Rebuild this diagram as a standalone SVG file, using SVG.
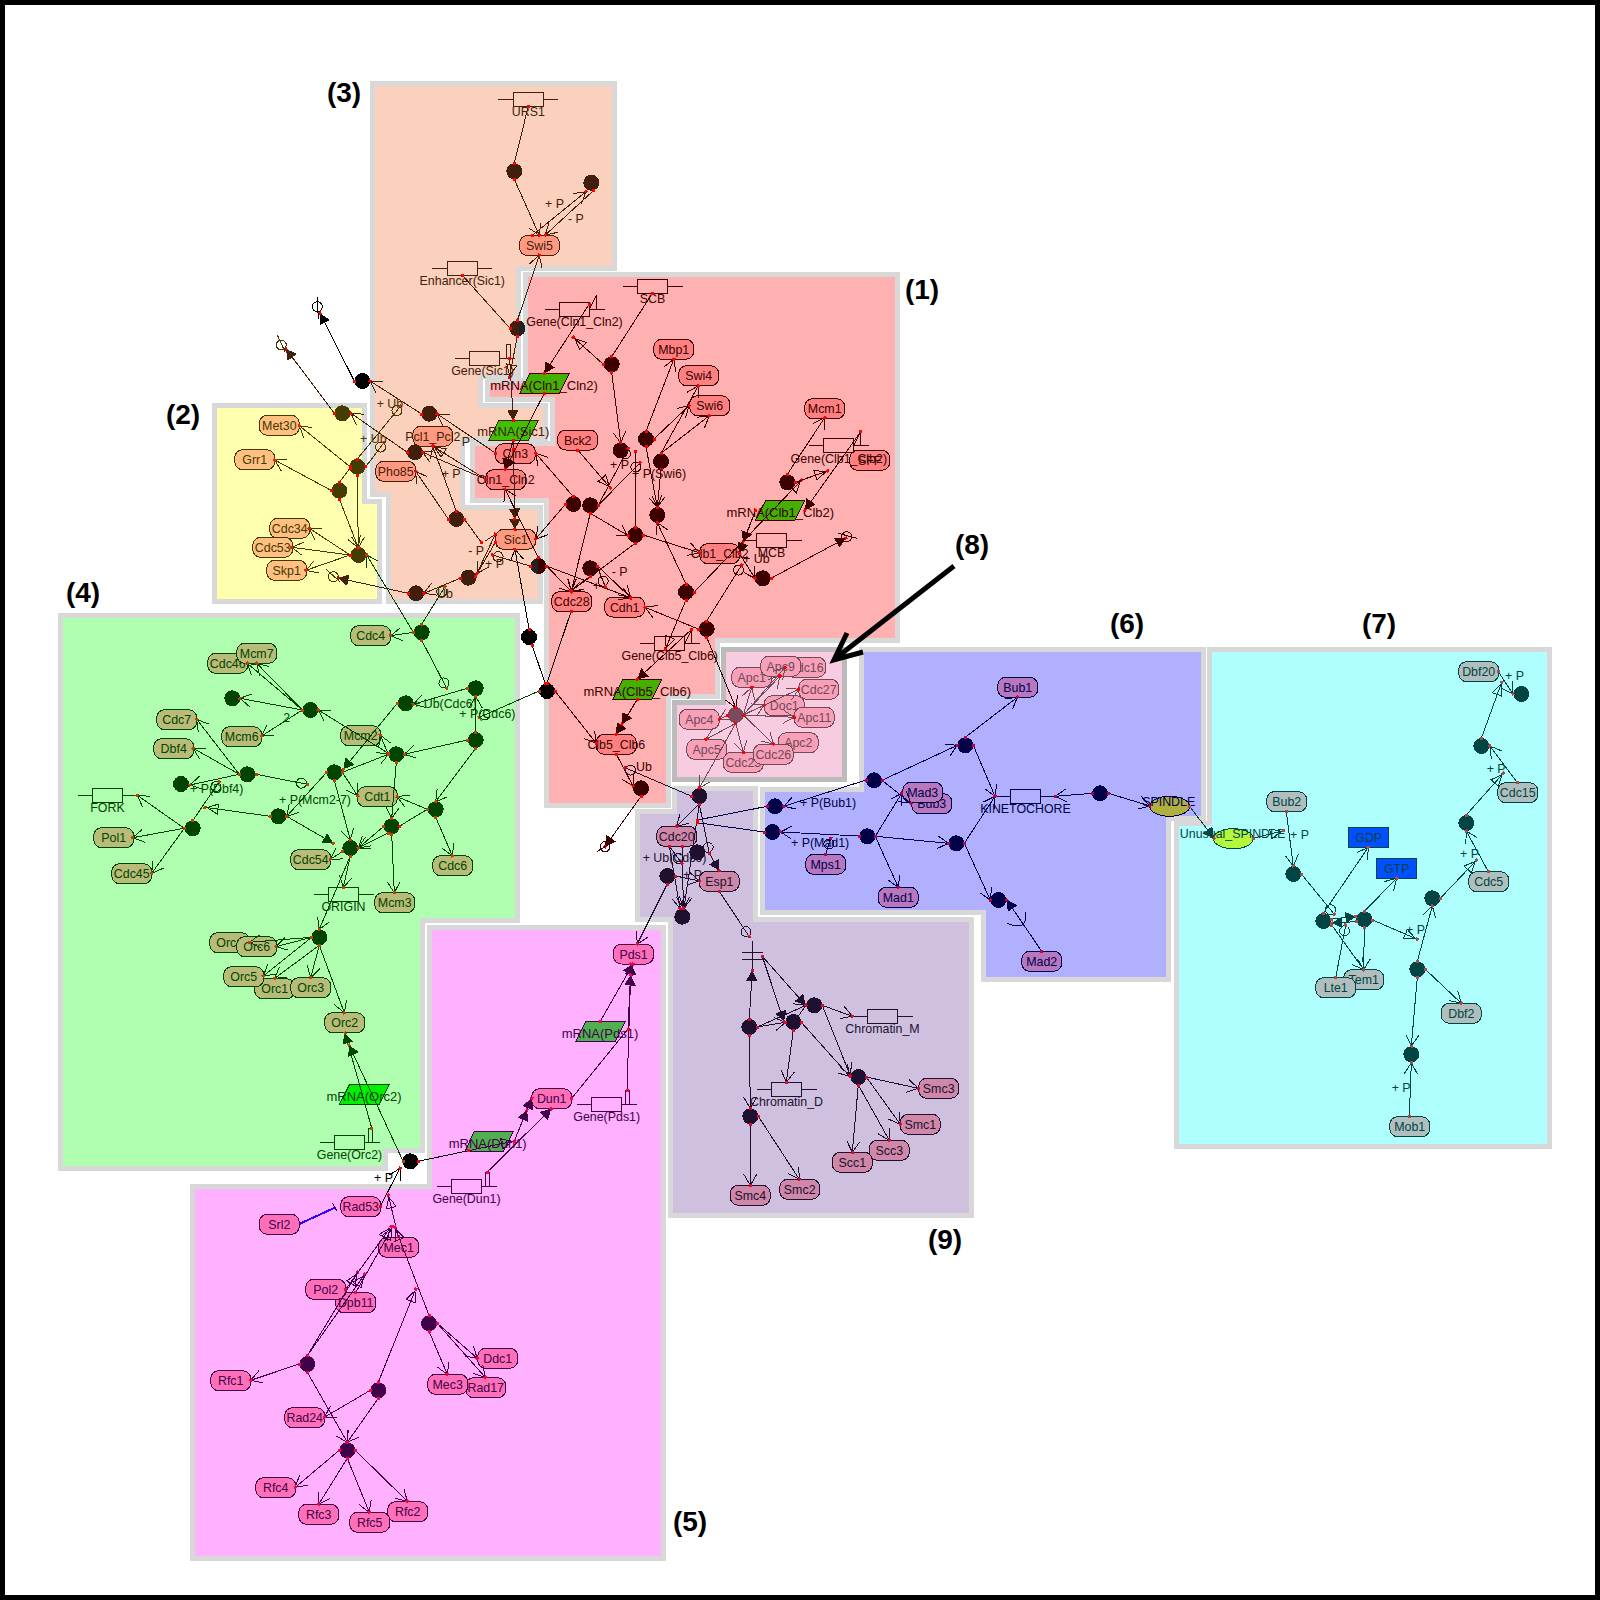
<svg xmlns="http://www.w3.org/2000/svg" width="1600" height="1600" viewBox="0 0 1600 1600" shape-rendering="crispEdges">
<style>
text{font:12.4px "Liberation Sans",Arial,sans-serif;text-anchor:middle;stroke:none}
.m text{font-size:13px}
.reg{stroke:#d8d8d8;stroke-width:5}
.h text{font:bold 28px "Liberation Sans",Arial,sans-serif;fill:#000}
.l text{text-anchor:start}
.r1{fill:#ff8080;stroke:#3c0000}.r1 text,.l1{fill:#3c0000}
.r2{fill:#ffc080;stroke:#443800}.r2 text,.l2{fill:#443800}
.r3{fill:#ff9a80;stroke:#42200c}.r3 text,.l3{fill:#42200c}
.r4{fill:#b8bc78;stroke:#004400}.r4 text,.l4{fill:#004400}
.r5{fill:#ff70b8;stroke:#40004c}.r5 text,.l5{fill:#40004c}
.r6{fill:#b878c0;stroke:#000048}.r6 text,.l6{fill:#000048}
.r7{fill:#b0bebe;stroke:#004444}.r7 text,.l7{fill:#004444}
.r8{fill:#f8a0b8;stroke:#704858}.r8 text,.l8{fill:#704858}
.r9{fill:#d088a8;stroke:#201030}.r9 text,.l9{fill:#201030}
.g{fill:none}
.k0{fill:#000}.k1{fill:#3c0000}.k2{fill:#443c00}.k3{fill:#421f0c}.k4{fill:#004400}.k5{fill:#40004c}.k6{fill:#000048}.k7{fill:#004444}.k8{fill:#7a4a5e}.k9{fill:#201030}
</style>
<defs>
<rect id="b" x="-20" y="-10" width="40" height="20" rx="8"/>
<g id="gn"><path d="M-30 0H-15M15 0H30"/><rect x="-15" y="-7" width="30" height="14"/></g>
<rect id="sq" x="-1.5" y="-1.5" width="3" height="3" stroke="none"/>
<g id="aO"><path d="M-11-6.5L0 0-11 6.5" fill="none" stroke="currentColor"/><use href="#sq"/></g>
<g id="aF"><path d="M-10-5L-1 0-10 5Z" fill="currentColor" stroke="currentColor"/><use href="#sq"/></g>
<g id="aH"><path d="M-13-5L-2 0-13 5Z" fill="none" stroke="currentColor"/><use href="#sq"/></g>
<g id="aC"><circle cx="-6" r="5" fill="none" stroke="currentColor"/><use href="#sq"/></g>
<marker id="s0" markerUnits="userSpaceOnUse" markerWidth="6" markerHeight="6" viewBox="-3 -3 6 6" fill="#f00"><use href="#sq"/></marker>
<marker id="s1" markerUnits="userSpaceOnUse" markerWidth="6" markerHeight="6" viewBox="-3 -3 6 6" fill="#f00"><use href="#sq"/></marker>
<marker id="s4" markerUnits="userSpaceOnUse" markerWidth="6" markerHeight="6" viewBox="-3 -3 6 6" fill="#c04000"><use href="#sq"/></marker>
<marker id="s5" markerUnits="userSpaceOnUse" markerWidth="6" markerHeight="6" viewBox="-3 -3 6 6" fill="#ff0040"><use href="#sq"/></marker>
<marker id="s6" markerUnits="userSpaceOnUse" markerWidth="6" markerHeight="6" viewBox="-3 -3 6 6" fill="#c00040"><use href="#sq"/></marker>
<marker id="s7" markerUnits="userSpaceOnUse" markerWidth="6" markerHeight="6" viewBox="-3 -3 6 6" fill="#b04848"><use href="#sq"/></marker>
<marker id="s9" markerUnits="userSpaceOnUse" markerWidth="6" markerHeight="6" viewBox="-3 -3 6 6" fill="#d01030"><use href="#sq"/></marker>
<marker id="o0" markerUnits="userSpaceOnUse" orient="auto" markerWidth="34" markerHeight="34" viewBox="-17 -17 34 34" color="#000" fill="#f00"><use href="#aO"/></marker>
<marker id="f0" markerUnits="userSpaceOnUse" orient="auto" markerWidth="34" markerHeight="34" viewBox="-17 -17 34 34" color="#000" fill="#f00"><use href="#aF"/></marker>
<marker id="o1" markerUnits="userSpaceOnUse" orient="auto" markerWidth="34" markerHeight="34" viewBox="-17 -17 34 34" color="#3c0000" fill="#f00"><use href="#aO"/></marker>
<marker id="f1" markerUnits="userSpaceOnUse" orient="auto" markerWidth="34" markerHeight="34" viewBox="-17 -17 34 34" color="#3c0000" fill="#f00"><use href="#aF"/></marker>
<marker id="h1" markerUnits="userSpaceOnUse" orient="auto" markerWidth="34" markerHeight="34" viewBox="-17 -17 34 34" color="#3c0000" fill="#f00"><use href="#aH"/></marker>
<marker id="c1" markerUnits="userSpaceOnUse" orient="auto" markerWidth="34" markerHeight="34" viewBox="-17 -17 34 34" color="#3c0000" fill="#f00"><use href="#aC"/></marker>
<marker id="e1" markerUnits="userSpaceOnUse" markerWidth="6" markerHeight="6" viewBox="-3 -3 6 6" fill="#f00"><use href="#sq"/></marker>
<marker id="o2" markerUnits="userSpaceOnUse" orient="auto" markerWidth="34" markerHeight="34" viewBox="-17 -17 34 34" color="#443800" fill="#f02000"><use href="#aO"/></marker>
<marker id="c2" markerUnits="userSpaceOnUse" orient="auto" markerWidth="34" markerHeight="34" viewBox="-17 -17 34 34" color="#443800" fill="#f02000"><use href="#aC"/></marker>
<marker id="o3" markerUnits="userSpaceOnUse" orient="auto" markerWidth="34" markerHeight="34" viewBox="-17 -17 34 34" color="#42200c" fill="#f00"><use href="#aO"/></marker>
<marker id="f3" markerUnits="userSpaceOnUse" orient="auto" markerWidth="34" markerHeight="34" viewBox="-17 -17 34 34" color="#42200c" fill="#f00"><use href="#aF"/></marker>
<marker id="h3" markerUnits="userSpaceOnUse" orient="auto" markerWidth="34" markerHeight="34" viewBox="-17 -17 34 34" color="#42200c" fill="#f00"><use href="#aH"/></marker>
<marker id="c3" markerUnits="userSpaceOnUse" orient="auto" markerWidth="34" markerHeight="34" viewBox="-17 -17 34 34" color="#42200c" fill="#f00"><use href="#aC"/></marker>
<marker id="o4" markerUnits="userSpaceOnUse" orient="auto" markerWidth="34" markerHeight="34" viewBox="-17 -17 34 34" color="#004400" fill="#c04000"><use href="#aO"/></marker>
<marker id="f4" markerUnits="userSpaceOnUse" orient="auto" markerWidth="34" markerHeight="34" viewBox="-17 -17 34 34" color="#004400" fill="#c04000"><use href="#aF"/></marker>
<marker id="h4" markerUnits="userSpaceOnUse" orient="auto" markerWidth="34" markerHeight="34" viewBox="-17 -17 34 34" color="#004400" fill="#c04000"><use href="#aH"/></marker>
<marker id="c4" markerUnits="userSpaceOnUse" orient="auto" markerWidth="34" markerHeight="34" viewBox="-17 -17 34 34" color="#004400" fill="#c04000"><use href="#aC"/></marker>
<marker id="o5" markerUnits="userSpaceOnUse" orient="auto" markerWidth="34" markerHeight="34" viewBox="-17 -17 34 34" color="#40004c" fill="#ff0040"><use href="#aO"/></marker>
<marker id="f5" markerUnits="userSpaceOnUse" orient="auto" markerWidth="34" markerHeight="34" viewBox="-17 -17 34 34" color="#40004c" fill="#ff0040"><use href="#aF"/></marker>
<marker id="h5" markerUnits="userSpaceOnUse" orient="auto" markerWidth="34" markerHeight="34" viewBox="-17 -17 34 34" color="#40004c" fill="#ff0040"><use href="#aH"/></marker>
<marker id="o6" markerUnits="userSpaceOnUse" orient="auto" markerWidth="34" markerHeight="34" viewBox="-17 -17 34 34" color="#000048" fill="#c00040"><use href="#aO"/></marker>
<marker id="f6" markerUnits="userSpaceOnUse" orient="auto" markerWidth="34" markerHeight="34" viewBox="-17 -17 34 34" color="#000048" fill="#c00040"><use href="#aF"/></marker>
<marker id="c6" markerUnits="userSpaceOnUse" orient="auto" markerWidth="34" markerHeight="34" viewBox="-17 -17 34 34" color="#000048" fill="#c00040"><use href="#aC"/></marker>
<marker id="o7" markerUnits="userSpaceOnUse" orient="auto" markerWidth="34" markerHeight="34" viewBox="-17 -17 34 34" color="#004444" fill="#b04848"><use href="#aO"/></marker>
<marker id="f7" markerUnits="userSpaceOnUse" orient="auto" markerWidth="34" markerHeight="34" viewBox="-17 -17 34 34" color="#004444" fill="#b04848"><use href="#aF"/></marker>
<marker id="h7" markerUnits="userSpaceOnUse" orient="auto" markerWidth="34" markerHeight="34" viewBox="-17 -17 34 34" color="#004444" fill="#b04848"><use href="#aH"/></marker>
<marker id="c7" markerUnits="userSpaceOnUse" orient="auto" markerWidth="34" markerHeight="34" viewBox="-17 -17 34 34" color="#004444" fill="#b04848"><use href="#aC"/></marker>
<marker id="o8" markerUnits="userSpaceOnUse" orient="auto" markerWidth="34" markerHeight="34" viewBox="-17 -17 34 34" color="#704858" fill="#f00"><use href="#aO"/></marker>
<marker id="o9" markerUnits="userSpaceOnUse" orient="auto" markerWidth="34" markerHeight="34" viewBox="-17 -17 34 34" color="#201030" fill="#d01030"><use href="#aO"/></marker>
<marker id="f9" markerUnits="userSpaceOnUse" orient="auto" markerWidth="34" markerHeight="34" viewBox="-17 -17 34 34" color="#201030" fill="#d01030"><use href="#aF"/></marker>
<marker id="c9" markerUnits="userSpaceOnUse" orient="auto" markerWidth="34" markerHeight="34" viewBox="-17 -17 34 34" color="#201030" fill="#d01030"><use href="#aC"/></marker>
</defs>
<rect x="2.5" y="2.5" width="1595" height="1595" fill="#fff" stroke="#000" stroke-width="5"/>
<g id="regions">
<polygon class="reg" fill="#fbd0bc" points="372.5,83.5 614.5,83.5 614.5,268.5 518.5,268.5 518.5,376.5 480.5,376.5 480.5,405.5 545.5,405.5 545.5,439.5 462.5,439.5 462.5,507.5 540.5,507.5 540.5,601.5 388.5,601.5 388.5,494.5 372.5,494.5"/>
<polygon class="reg" fill="#ffffb0" points="214.5,405.5 364.5,405.5 364.5,501.5 379.5,501.5 379.5,601.5 214.5,601.5"/>
<polygon class="reg" fill="#ffb0b0" points="525.5,274.5 897.5,274.5 897.5,640.5 717.5,640.5 717.5,696.5 668.5,696.5 668.5,805.5 546.5,805.5 546.5,500.5 472.5,500.5 472.5,443.5 552.5,443.5 552.5,399.5 487.5,399.5 487.5,380.5 525.5,380.5"/>
<polygon class="reg" fill="#b0ffb0" points="60.5,615.5 517.5,615.5 517.5,920.5 422.5,920.5 422.5,1150.5 385.5,1150.5 385.5,1168.5 60.5,1168.5"/>
<polygon class="reg" fill="#ffb0ff" points="429.5,927.5 663.5,927.5 663.5,1558.5 192.5,1558.5 192.5,1186.5 429.5,1186.5"/>
<polygon class="reg" fill="#b0b0ff" points="861.5,649.5 1203.5,649.5 1203.5,818.5 1168.5,818.5 1168.5,979.5 983.5,979.5 983.5,912.5 762.5,912.5 762.5,789.5 861.5,789.5"/>
<polygon class="reg" fill="#b0ffff" points="1209.5,649.5 1549.5,649.5 1549.5,1146.5 1176.5,1146.5 1176.5,823.5 1209.5,823.5"/>
<polygon class="reg" fill="#d0c0e0" points="637.5,811.5 674.5,811.5 674.5,788.5 755.5,788.5 755.5,919.5 971.5,919.5 971.5,1215.5 670.5,1215.5 670.5,919.5 637.5,919.5"/>
<polygon class="reg" style="stroke:#bbb" fill="#f8cce0" points="723.5,649.5 844.5,649.5 844.5,779.5 674.5,779.5 674.5,702.5 723.5,702.5"/>
</g>
<g id="headings" class="h">
<text x="922" y="299">(1)</text><text x="183" y="424">(2)</text><text x="344" y="102">(3)</text><text x="83" y="602">(4)</text><text x="690" y="1531">(5)</text><text x="1127" y="633">(6)</text><text x="1379" y="633">(7)</text><text x="972" y="554">(8)</text><text x="945" y="1249">(9)</text>
</g>
<path id="arrow-8" d="M954 566L836 658M847 633L834 660 863 652" fill="none" stroke="#000" stroke-width="5" shape-rendering="auto"/>
<g id="nodes">
<g id="Swi5" class="r3" transform="translate(539.5 245.5)"><use href="#b"/><text y="4.5">Swi5</text></g>
<g id="Pho85" class="r3" transform="translate(395.7 471.3)"><use href="#b"/><text y="4.5">Pho85</text></g>
<g id="Pcl1_Pcl2" class="r3" transform="translate(432.8 436.3)"><use href="#b"/><text y="4.5">Pcl1_Pcl2</text></g>
<g id="Sic1" class="r3" transform="translate(515.7 539.3)"><use href="#b"/><text y="4.5">Sic1</text></g>
<g id="Cln3" class="r1" transform="translate(515.3 453.7)"><use href="#b"/><text y="4.5">Cln3</text></g>
<g id="Cln1_Cln2" class="r1" transform="translate(505.7 479.7)"><use href="#b"/><text y="4.5">Cln1_Cln2</text></g>
<g id="Bck2" class="r1" transform="translate(577.7 440)"><use href="#b"/><text y="4.5">Bck2</text></g>
<g id="Cdc28" class="r1" transform="translate(571.7 601.7)"><use href="#b"/><text y="4.5">Cdc28</text></g>
<g id="Mbp1" class="r1" transform="translate(673.7 349.3)"><use href="#b"/><text y="4.5">Mbp1</text></g>
<g id="Swi4" class="r1" transform="translate(698.7 375.7)"><use href="#b"/><text y="4.5">Swi4</text></g>
<g id="Swi6" class="r1" transform="translate(709.7 405.7)"><use href="#b"/><text y="4.5">Swi6</text></g>
<g id="Mcm1" class="r1" transform="translate(824.7 408.7)"><use href="#b"/><text y="4.5">Mcm1</text></g>
<g id="SFF" class="r1" transform="translate(869.7 460.3)"><use href="#b"/><text y="4.5">SFF</text></g>
<g id="Clb1_Clb2" class="r1" transform="translate(719.7 553.7)"><use href="#b"/><text y="4.5">Clb1_Clb2</text></g>
<g id="Cdh1" class="r1" transform="translate(624.7 607)"><use href="#b"/><text y="4.5">Cdh1</text></g>
<g id="Clb5_Clb6" class="r1" transform="translate(616.3 744.3)"><use href="#b"/><text y="4.5">Clb5_Clb6</text></g>
<g id="Met30" class="r2" transform="translate(279.3 425.3)"><use href="#b"/><text y="4.5">Met30</text></g>
<g id="Grr1" class="r2" transform="translate(254.7 459.7)"><use href="#b"/><text y="4.5">Grr1</text></g>
<g id="Cdc34" class="r2" transform="translate(289.7 528.3)"><use href="#b"/><text y="4.5">Cdc34</text></g>
<g id="Cdc53" class="r2" transform="translate(272.7 547.3)"><use href="#b"/><text y="4.5">Cdc53</text></g>
<g id="Skp1" class="r2" transform="translate(286.7 570.3)"><use href="#b"/><text y="4.5">Skp1</text></g>
<g id="Cdc16" class="r8" transform="translate(805.7 667.3)"><use href="#b"/><text y="4.5">Cdc16</text></g>
<g id="Apc1" class="r8" transform="translate(751.7 677.3)"><use href="#b"/><text y="4.5">Apc1</text></g>
<g id="Apc9" class="r8" transform="translate(780.7 666.3)"><use href="#b"/><text y="4.5">Apc9</text></g>
<g id="Cdc27" class="r8" transform="translate(818.7 689.3)"><use href="#b"/><text y="4.5">Cdc27</text></g>
<g id="Doc1" class="r8" transform="translate(784.3 705.7)"><use href="#b"/><text y="4.5">Doc1</text></g>
<g id="Apc11" class="r8" transform="translate(814.3 717.3)"><use href="#b"/><text y="4.5">Apc11</text></g>
<g id="Apc4" class="r8" transform="translate(699.3 719.3)"><use href="#b"/><text y="4.5">Apc4</text></g>
<g id="Cdc23" class="r8" transform="translate(743.3 762.3)"><use href="#b"/><text y="4.5">Cdc23</text></g>
<g id="Apc5" class="r8" transform="translate(706.7 749.3)"><use href="#b"/><text y="4.5">Apc5</text></g>
<g id="Apc2" class="r8" transform="translate(798.3 742.7)"><use href="#b"/><text y="4.5">Apc2</text></g>
<g id="Cdc26" class="r8" transform="translate(773.3 754.3)"><use href="#b"/><text y="4.5">Cdc26</text></g>
<g id="Cdc20" class="r9" transform="translate(676.7 836.3)"><use href="#b"/><text y="4.5">Cdc20</text></g>
<g id="Esp1" class="r9" transform="translate(719.3 881.3)"><use href="#b"/><text y="4.5">Esp1</text></g>
<g id="Smc3" class="r9" transform="translate(938.7 1088.3)"><use href="#b"/><text y="4.5">Smc3</text></g>
<g id="Smc1" class="r9" transform="translate(920.3 1124.3)"><use href="#b"/><text y="4.5">Smc1</text></g>
<g id="Scc3" class="r9" transform="translate(889.3 1150.3)"><use href="#b"/><text y="4.5">Scc3</text></g>
<g id="Scc1" class="r9" transform="translate(852.3 1162.3)"><use href="#b"/><text y="4.5">Scc1</text></g>
<g id="Smc4" class="r9" transform="translate(750.3 1195.3)"><use href="#b"/><text y="4.5">Smc4</text></g>
<g id="Smc2" class="r9" transform="translate(799.7 1189.3)"><use href="#b"/><text y="4.5">Smc2</text></g>
<g id="Bub1" class="r6" transform="translate(1017.7 687.3)"><use href="#b"/><text y="4.5">Bub1</text></g>
<g id="Bub3" class="r6" transform="translate(931.7 803.7)"><use href="#b"/><text y="4.5">Bub3</text></g>
<g id="Mad3" class="r6" transform="translate(922.7 792.3)"><use href="#b"/><text y="4.5">Mad3</text></g>
<g id="Mad1" class="r6" transform="translate(898.3 897.3)"><use href="#b"/><text y="4.5">Mad1</text></g>
<g id="Mad2" class="r6" transform="translate(1041.7 961.3)"><use href="#b"/><text y="4.5">Mad2</text></g>
<g id="Mps1" class="r6" transform="translate(825.7 864.3)"><use href="#b"/><text y="4.5">Mps1</text></g>
<g id="Bub2" class="r7" transform="translate(1286.7 801.7)"><use href="#b"/><text y="4.5">Bub2</text></g>
<g id="Tem1" class="r7" transform="translate(1363.7 979.7)"><use href="#b"/><text y="4.5">Tem1</text></g>
<g id="Lte1" class="r7" transform="translate(1335.7 987.7)"><use href="#b"/><text y="4.5">Lte1</text></g>
<g id="Dbf20" class="r7" transform="translate(1478.7 671.7)"><use href="#b"/><text y="4.5">Dbf20</text></g>
<g id="Cdc15" class="r7" transform="translate(1517.7 792.7)"><use href="#b"/><text y="4.5">Cdc15</text></g>
<g id="Cdc5" class="r7" transform="translate(1488.7 881.7)"><use href="#b"/><text y="4.5">Cdc5</text></g>
<g id="Dbf2" class="r7" transform="translate(1461.3 1013.3)"><use href="#b"/><text y="4.5">Dbf2</text></g>
<g id="Mob1" class="r7" transform="translate(1409.7 1126.7)"><use href="#b"/><text y="4.5">Mob1</text></g>
<g id="GDP" class="r7" transform="translate(1368.7 837.7)"><rect x="-20" y="-10" width="40" height="20" style="fill:#0050ff"/><text y="4.5">GDP</text></g>
<g id="GTP" class="r7" transform="translate(1396.7 868.7)"><rect x="-20" y="-10" width="40" height="20" style="fill:#0050ff"/><text y="4.5">GTP</text></g>
<g id="Cdc4" class="r4" transform="translate(370.7 635.7)"><use href="#b"/><text y="4.5">Cdc4</text></g>
<g id="Cdc46" class="r4" transform="translate(227.7 663.3)"><use href="#b"/><text y="4.5">Cdc46</text></g>
<g id="Mcm7" class="r4" transform="translate(256.7 653.3)"><use href="#b"/><text y="4.5">Mcm7</text></g>
<g id="Cdc7" class="r4" transform="translate(176.7 719.7)"><use href="#b"/><text y="4.5">Cdc7</text></g>
<g id="Mcm6" class="r4" transform="translate(241.7 736.7)"><use href="#b"/><text y="4.5">Mcm6</text></g>
<g id="Mcm2" class="r4" transform="translate(360.7 735.7)"><use href="#b"/><text y="4.5">Mcm2</text></g>
<g id="Dbf4" class="r4" transform="translate(173.7 748.7)"><use href="#b"/><text y="4.5">Dbf4</text></g>
<g id="Cdt1" class="r4" transform="translate(377.3 796.7)"><use href="#b"/><text y="4.5">Cdt1</text></g>
<g id="Pol1" class="r4" transform="translate(113.7 837.7)"><use href="#b"/><text y="4.5">Pol1</text></g>
<g id="Cdc45" class="r4" transform="translate(131.7 873.7)"><use href="#b"/><text y="4.5">Cdc45</text></g>
<g id="Cdc54" class="r4" transform="translate(310.7 859.7)"><use href="#b"/><text y="4.5">Cdc54</text></g>
<g id="Cdc6" class="r4" transform="translate(452.7 865.7)"><use href="#b"/><text y="4.5">Cdc6</text></g>
<g id="Mcm3" class="r4" transform="translate(394.7 902.7)"><use href="#b"/><text y="4.5">Mcm3</text></g>
<g id="Orc4" class="r4" transform="translate(229.7 942.7)"><use href="#b"/><text y="4.5">Orc4</text></g>
<g id="Orc6" class="r4" transform="translate(256.7 946.7)"><use href="#b"/><text y="4.5">Orc6</text></g>
<g id="Orc1" class="r4" transform="translate(274.7 988.7)"><use href="#b"/><text y="4.5">Orc1</text></g>
<g id="Orc5" class="r4" transform="translate(243.7 976.7)"><use href="#b"/><text y="4.5">Orc5</text></g>
<g id="Orc3" class="r4" transform="translate(310.7 987.7)"><use href="#b"/><text y="4.5">Orc3</text></g>
<g id="Orc2" class="r4" transform="translate(344.7 1022.7)"><use href="#b"/><text y="4.5">Orc2</text></g>
<g id="Dun1" class="r5" transform="translate(551.7 1098.7)"><use href="#b"/><text y="4.5">Dun1</text></g>
<g id="Pds1" class="r5" transform="translate(633.5 954)"><use href="#b"/><text y="4.5">Pds1</text></g>
<g id="Rad53" class="r5" transform="translate(360.7 1206.7)"><use href="#b"/><text y="4.5">Rad53</text></g>
<g id="Srl2" class="r5" transform="translate(279.3 1224.3)"><use href="#b"/><text y="4.5">Srl2</text></g>
<g id="Mec1" class="r5" transform="translate(398.7 1247.3)"><use href="#b"/><text y="4.5">Mec1</text></g>
<g id="Dpb11" class="r5" transform="translate(355.7 1302.7)"><use href="#b"/><text y="4.5">Dpb11</text></g>
<g id="Pol2" class="r5" transform="translate(325.7 1289.3)"><use href="#b"/><text y="4.5">Pol2</text></g>
<g id="Rfc1" class="r5" transform="translate(230.7 1380.7)"><use href="#b"/><text y="4.5">Rfc1</text></g>
<g id="Rad24" class="r5" transform="translate(304.7 1417.7)"><use href="#b"/><text y="4.5">Rad24</text></g>
<g id="Rad17" class="r5" transform="translate(485.7 1387.7)"><use href="#b"/><text y="4.5">Rad17</text></g>
<g id="Mec3" class="r5" transform="translate(447.7 1384.3)"><use href="#b"/><text y="4.5">Mec3</text></g>
<g id="Ddc1" class="r5" transform="translate(497.7 1358.3)"><use href="#b"/><text y="4.5">Ddc1</text></g>
<g id="Rfc4" class="r5" transform="translate(275.7 1487.7)"><use href="#b"/><text y="4.5">Rfc4</text></g>
<g id="Rfc3" class="r5" transform="translate(318.7 1514.3)"><use href="#b"/><text y="4.5">Rfc3</text></g>
<g id="Rfc2" class="r5" transform="translate(407.7 1511.7)"><use href="#b"/><text y="4.5">Rfc2</text></g>
<g id="Rfc5" class="r5" transform="translate(369.7 1522.3)"><use href="#b"/><text y="4.5">Rfc5</text></g>
<g id="URS1" class="r3 g" transform="translate(528.3 99.3)"><use href="#gn"/><text y="17">URS1</text></g>
<g id="Enhancer_Sic1" class="r3 g" transform="translate(462.3 268.3)"><use href="#gn"/><text y="17">Enhancer(Sic1)</text></g>
<g id="Gene_Sic1" class="r3 g" transform="translate(484.5 358.3)"><use href="#gn"/><rect x="22" y="-14" width="3.5" height="14"/><text x="-2" y="17">Gene(Sic1)</text></g>
<g id="Gene_Cln1_Cln2" class="r1 g" transform="translate(574.5 309.3)"><use href="#gn"/><path d="M15 0L22-14V0"/><text y="17">Gene(Cln1_Cln2)</text></g>
<g id="SCB" class="r1 g" transform="translate(652.5 286.3)"><use href="#gn"/><text y="17">SCB</text></g>
<g id="Gene_Clb1_Clb2" class="r1 g" transform="translate(838.8 445.7)"><use href="#gn"/><path d="M15 0L22-14V0"/><text y="17">Gene(Clb1_Clb2)</text></g>
<g id="MCB" class="r1 g" transform="translate(771.5 540.3)"><use href="#gn"/><text y="17">MCB</text></g>
<g id="Gene_Clb5_Clb6" class="r1 g" transform="translate(669.7 643.3)"><use href="#gn"/><path d="M15 0L22-14V0"/><text y="17">Gene(Clb5_Clb6)</text></g>
<g id="Chromatin_M" class="r9 g" transform="translate(882.5 1016.3)"><use href="#gn"/><text y="17">Chromatin_M</text></g>
<g id="Chromatin_D" class="r9 g" transform="translate(786.5 1089.3)"><use href="#gn"/><text y="17">Chromatin_D</text></g>
<g id="KINETOCHORE" class="r6 g" transform="translate(1025.5 796.3)"><use href="#gn"/><text y="17">KINETOCHORE</text></g>
<g id="FORK" class="r4 g" transform="translate(107.5 795.3)"><use href="#gn"/><text y="17">FORK</text></g>
<g id="ORIGIN" class="r4 g" transform="translate(343.5 894.3)"><use href="#gn"/><text y="17">ORIGIN</text></g>
<g id="Gene_Orc2" class="r4 g" transform="translate(349.5 1142.3)"><use href="#gn"/><rect x="19" y="-14" width="3.5" height="14"/><text y="17">Gene(Orc2)</text></g>
<g id="Gene_Pds1" class="r5 g" transform="translate(606.7 1104.3)"><use href="#gn"/><rect x="19" y="-14" width="3.5" height="14"/><text y="17">Gene(Pds1)</text></g>
<g id="Gene_Dun1" class="r5 g" transform="translate(466.5 1186.3)"><use href="#gn"/><rect x="19" y="-14" width="3.5" height="14"/><text y="17">Gene(Dun1)</text></g>
<g id="mRNA_Cln1_Cln2" class="r1 m" style="fill:#44b000"><polygon points="520,393.3 530,373.3 569.3,373.3 559.3,393.3"/><text x="544" y="390">mRNA(Cln1_Cln2)</text></g>
<g id="mRNA_Sic1" class="r3 m" style="fill:#40c000"><polygon points="488.7,440.3 499,420.3 538.3,420.3 528.3,440.3"/><text x="513.3" y="436">mRNA(Sic1)</text></g>
<g id="mRNA_Clb1_Clb2" class="r1 m" style="fill:#44b000"><polygon points="755.7,520 765.7,500.3 805,500.3 795,520"/><text x="780.3" y="516.7">mRNA(Clb1_Clb2)</text></g>
<g id="mRNA_Clb5_Clb6" class="r1 m" style="fill:#44b000"><polygon points="612.7,699.3 622.7,679.3 662,679.3 652,699.3"/><text x="637.3" y="695.7">mRNA(Clb5_Clb6)</text></g>
<g id="mRNA_Orc2" class="r4 m" style="fill:#00f000"><polygon points="339.3,1104.3 349.7,1084.3 389.3,1084.3 379.3,1104.3"/><text x="364" y="1100.7">mRNA(Orc2)</text></g>
<g id="mRNA_Pds1" class="r5 m" style="fill:#50b050"><polygon points="575.7,1041.7 585.7,1021.7 625,1021.7 615,1041.7"/><text x="600" y="1037.7">mRNA(Pds1)</text></g>
<g id="mRNA_Dun1" class="r5 m" style="fill:#50b050"><polygon points="465,1151.7 474,1131.7 513.3,1131.7 503.3,1151.7"/><text x="487.7" y="1147.7">mRNA(Dun1)</text></g>
<g id="SPINDLE" class="r6" style="fill:#b0b040"><ellipse cx="1169.7" cy="806.3" rx="20" ry="10"/><text x="1168.7" y="806">SPINDLE</text></g>
<g id="Unusual_SPINDLE" class="r7" style="fill:#b4f83c"><ellipse cx="1233.3" cy="838.7" rx="20" ry="10"/><text x="1232.5" y="838">Unusual_SPINDLE</text></g>
<g id="separase" class="r9 g"><path d="M752.3 941.3V970.7M742 952.3H763.3M742 959.7H763.3"/></g>
<g id="d3a" class="k3"><circle cx="514.3" cy="171.3" r="8"/></g><g id="d3b" class="k3"><circle cx="591.3" cy="182.7" r="8"/></g><g id="d3c" class="k3"><circle cx="517.3" cy="328.3" r="8"/><path d="M519 320.5a8 8 0 0 1 0 15.6z" fill="#222"/></g><g id="d3d" class="k3"><circle cx="429.3" cy="413.7" r="8"/></g><g id="d3e" class="k3"><circle cx="415" cy="452.3" r="8"/></g><g id="d3f" class="k3"><circle cx="456.3" cy="519" r="8"/></g><g id="d3g" class="k3"><circle cx="468.3" cy="577.7" r="8"/></g><g id="d3h" class="k3"><circle cx="416" cy="593.3" r="8"/></g>
<g id="d0a" class="k0"><circle cx="362.3" cy="381" r="8"/></g><g id="d0b" class="k0"><circle cx="410.3" cy="1161.3" r="8"/></g><g id="d0c" class="k0"><circle cx="529" cy="637" r="8"/></g><g id="d0d" class="k0"><circle cx="547" cy="691" r="8"/></g>
<g id="d2a" class="k2"><circle cx="342.3" cy="413.3" r="8"/></g><g id="d2b" class="k2"><circle cx="357.3" cy="466.7" r="8"/></g><g id="d2c" class="k2"><circle cx="339.3" cy="490.7" r="8"/></g><g id="d2d" class="k2"><circle cx="358.3" cy="555" r="8"/></g>
<g id="d1a" class="k1"><circle cx="538.3" cy="566" r="8"/><path d="M538.3 558a8 8 0 0 0 0 16z" fill="#222"/></g><g id="d1b" class="k1"><circle cx="611.7" cy="364.3" r="8"/></g><g id="d1c" class="k1"><circle cx="620.7" cy="450.3" r="8"/></g><g id="d1d" class="k1"><circle cx="646" cy="439" r="8"/></g><g id="d1e" class="k1"><circle cx="661" cy="461.3" r="8"/></g><g id="d1f" class="k1"><circle cx="657.3" cy="515" r="8"/></g><g id="d1g" class="k1"><circle cx="573.3" cy="504" r="8"/></g><g id="d1h" class="k1"><circle cx="590.3" cy="505.3" r="8"/></g><g id="d1i" class="k1"><circle cx="635.3" cy="535" r="8"/></g><g id="d1j" class="k1"><circle cx="590.3" cy="568.3" r="8"/></g><g id="d1k" class="k1"><circle cx="686" cy="592" r="8"/></g><g id="d1l" class="k1"><circle cx="706.7" cy="629" r="8"/></g><g id="d1m" class="k1"><circle cx="787.3" cy="482.3" r="8"/></g><g id="d1n" class="k1"><circle cx="762.7" cy="578.3" r="8"/></g><g id="d1o" class="k1"><circle cx="641" cy="788.3" r="8"/></g>
<g id="d9a" class="k9"><circle cx="699.3" cy="796" r="8"/></g><g id="d9b" class="k9"><circle cx="697.3" cy="852.3" r="8"/></g><g id="d9c" class="k9"><circle cx="667.3" cy="876" r="8"/></g><g id="d9d" class="k9"><circle cx="682.3" cy="916.7" r="8"/></g><g id="d9e" class="k9"><circle cx="749.3" cy="1027" r="8"/></g><g id="d9f" class="k9"><circle cx="793.3" cy="1022" r="8"/></g><g id="d9g" class="k9"><circle cx="814.3" cy="1005.3" r="8"/></g><g id="d9h" class="k9"><circle cx="858.3" cy="1077" r="8"/></g><g id="d9i" class="k9"><circle cx="750.3" cy="1116.3" r="8"/></g>
<g id="d8a" class="k8"><circle cx="735.7" cy="715" r="8"/></g>
<g id="d6a" class="k6"><circle cx="775" cy="806.3" r="8"/></g><g id="d6b" class="k6"><circle cx="772.3" cy="832" r="8"/></g><g id="d6c" class="k6"><circle cx="874" cy="780.3" r="8"/></g><g id="d6d" class="k6"><circle cx="867.3" cy="836.3" r="8"/></g><g id="d6e" class="k6"><circle cx="965.3" cy="745.3" r="8"/></g><g id="d6f" class="k6"><circle cx="956.3" cy="843.3" r="8"/></g><g id="d6g" class="k6"><circle cx="998.3" cy="900" r="8"/></g><g id="d6h" class="k6"><circle cx="1100" cy="793.3" r="8"/></g>
<g id="d7a" class="k7"><circle cx="1293.3" cy="874" r="8"/></g><g id="d7b" class="k7"><circle cx="1323.3" cy="921" r="8"/></g><g id="d7c" class="k7"><circle cx="1364.3" cy="919.3" r="8"/></g><g id="d7d" class="k7"><circle cx="1417.3" cy="969.3" r="8"/></g><g id="d7e" class="k7"><circle cx="1432.3" cy="898.3" r="8"/></g><g id="d7f" class="k7"><circle cx="1466.3" cy="823" r="8"/></g><g id="d7g" class="k7"><circle cx="1481.3" cy="746" r="8"/></g><g id="d7h" class="k7"><circle cx="1521.3" cy="694" r="8"/></g><g id="d7i" class="k7"><circle cx="1411.3" cy="1054.3" r="8"/></g>
<g id="d4a" class="k4"><circle cx="421.7" cy="632.3" r="8"/></g><g id="d4b" class="k4"><circle cx="475.7" cy="688.3" r="8"/></g><g id="d4c" class="k4"><circle cx="405.7" cy="703.3" r="8"/></g><g id="d4d" class="k4"><circle cx="475.7" cy="740" r="8"/></g><g id="d4e" class="k4"><circle cx="396.3" cy="754.3" r="8"/></g><g id="d4f" class="k4"><circle cx="310.3" cy="710" r="8"/></g><g id="d4g" class="k4"><circle cx="232.3" cy="698.3" r="8"/></g><g id="d4h" class="k4"><circle cx="334.3" cy="772.3" r="8"/></g><g id="d4i" class="k4"><circle cx="278.3" cy="816.3" r="8"/></g><g id="d4j" class="k4"><circle cx="350.3" cy="848" r="8"/></g><g id="d4k" class="k4"><circle cx="391.7" cy="826.3" r="8"/></g><g id="d4l" class="k4"><circle cx="435.7" cy="809.3" r="8"/></g><g id="d4m" class="k4"><circle cx="247.3" cy="774.3" r="8"/></g><g id="d4n" class="k4"><circle cx="181" cy="784" r="8"/></g><g id="d4o" class="k4"><circle cx="192.7" cy="828.3" r="8"/></g><g id="d4p" class="k4"><circle cx="319.3" cy="937.3" r="8"/></g>
<g id="d5a" class="k5"><circle cx="307.3" cy="1364" r="8"/></g><g id="d5b" class="k5"><circle cx="378.3" cy="1390.3" r="8"/></g><g id="d5c" class="k5"><circle cx="429" cy="1323.3" r="8"/></g><g id="d5d" class="k5"><circle cx="347.3" cy="1450.3" r="8"/></g>
</g>
<g id="connectors" fill="none">
<g stroke="#42200c" marker-start="url(#s1)">
<g marker-end="url(#e1)"><path d="M528.3 106L514.3 163.3"/><path d="M462.3 275.3L510 328.3"/><path d="M464.3 519L481 542"/></g>
<g marker-end="url(#o3)"><path d="M514.3 179.3L539.3 235.3"/><path d="M532.3 235.3L586 191.7"/><path d="M593.3 190.7L545.3 235"/><path d="M517.3 320.7L539.3 255.3"/><path d="M495.3 453L437.3 414"/><path d="M421.7 414L370 381"/><path d="M407.3 452.3L351 413.3"/><path d="M485.7 479.3L422.7 452.3"/><path d="M456.3 511.3L432.7 446"/><path d="M448.3 519L415.7 471.3"/><path d="M475.7 576L495.3 534.3"/><path d="M495.3 542.3L477.3 573.3"/><path d="M460 578.3L424 593.3"/></g>
<g marker-end="url(#h3)"><path d="M517.3 336.7L509.3 377.7"/><path d="M485.7 479.3L432.7 446"/></g>
<g marker-end="url(#f3)"><path d="M509.7 358L513.3 420.7"/><path d="M513.3 440.3L515 529.3"/><path d="M513.5 449L514.8 519"/><path d="M408.3 593.3L338 578"/><path d="M334.3 413.3L286 349"/></g>
<g marker-end="url(#c3)"><path d="M530 566L492.3 555"/></g>
</g>
<g stroke="#000" marker-start="url(#s0)">
<g marker-end="url(#f0)"><path d="M354.3 381L320 313.3"/></g>
<g marker-end="url(#o0)"><path d="M529 629L515 549.3"/><path d="M380.3 1206.3L400 1168.3"/></g>
<g marker-end="url(#e1)"><path d="M532 645L545 683"/><path d="M547 683L571 611.7"/><path d="M418.3 1161.3L468.3 1150.7"/></g>
</g>
<g stroke="#443800" marker-start="url(#s1)">
<g marker-end="url(#c2)"><path d="M357.3 459L400.7 406"/><path d="M365.7 466.7L384.3 442.3"/></g>
<g marker-end="url(#o2)"><path d="M350 466.7L299.3 425.7"/><path d="M357.3 475L358.3 547.7"/><path d="M331.7 490.7L274.7 460"/><path d="M339.3 499L358.3 547.7"/><path d="M350 555L309.3 528.3"/><path d="M350 555L291.7 547.3"/><path d="M350 555L306 570.3"/></g>
<g marker-end="url(#e1)"><path d="M339.3 482.7L350 468"/></g>
</g>
<g stroke="#3c0000" marker-start="url(#s1)">
<g marker-end="url(#e1)"><path d="M611.7 356.7L652.3 293.3"/><path d="M635.3 527V451.7"/></g>
<g marker-end="url(#o1)"><path d="M538.3 557.7L505 489"/><path d="M546.7 566L571.3 591.7"/><path d="M546.3 566L630.7 597.7"/><path d="M611.7 372.3L620.7 442.7"/><path d="M646 431.3L673.7 359.3"/><path d="M654 439L689 405.7"/><path d="M661 453.3L698.3 385.7"/><path d="M661 453.3L709.3 415.7"/><path d="M646 446.7L657.3 507.3"/><path d="M661 469.3L657.3 507.3"/><path d="M686 584L657.3 522.7"/><path d="M565.7 504L535.7 539"/><path d="M573.3 496.7L535.7 453.3"/><path d="M590.3 513.3L571.3 591"/><path d="M590.3 513.3L628.3 535.7"/><path d="M643.3 535L699.3 552.7"/><path d="M635.3 543.3L571.3 591"/><path d="M597.7 566L630.7 597.7"/><path d="M590.3 576L571.3 591"/><path d="M698.3 629L645 607.3"/><path d="M787.3 474.3L824.7 417.7"/><path d="M739.3 553.3L755 578.3"/><path d="M555 691L596.3 743.3"/><path d="M616.3 754.3L633 786"/></g>
<g marker-end="url(#f1)"><path d="M589.3 304L544.3 373.3"/><path d="M513.3 440L505 469.3"/><path d="M544.3 393.3L505 469.3"/><path d="M755.7 510L739.3 553.3"/><path d="M755.7 510L743 542"/><path d="M860.7 431.7L805 510"/><path d="M691.7 629.3L637.3 679.3"/><path d="M637.3 699.3L616.3 734.3"/><path d="M637.3 699.3L622 724"/><path d="M771 578.3L846 538"/><path d="M641 796.3L605 846.7"/></g>
<g marker-end="url(#h1)"><path d="M603.3 364.3L573.3 337.3"/><path d="M577.7 450L610.5 488"/><path d="M694.3 592L801.7 480"/><path d="M686 600L665.3 649.3"/><path d="M795.3 482.3L827.7 471"/></g>
<g marker-end="url(#c1)"><path d="M598.3 505.3L640 462.7"/><path d="M598.3 505.3L628.3 448.3"/><path d="M597 566L605.3 586.7"/><path d="M706.7 621L741.7 565"/></g>
</g>
<g stroke="#704858" marker-start="url(#s1)" marker-end="url(#o8)">
<path d="M727.7 715L719.3 719.3"/><path d="M743.3 715L751.7 687.3"/><path d="M743.3 715L780 676"/><path d="M743.3 715L764 705"/><path d="M743.3 715L798.7 689.3"/><path d="M743.3 715L794.3 717.3"/><path d="M743.3 715L773.3 744"/><path d="M735.7 723.3L706 739.3"/><path d="M735.7 723.3L743.3 752.3"/><path d="M743.3 715L785 667.3"/><path d="M735.7 723.3L699.3 788"/>
</g>
<g stroke="#3c0000" marker-start="url(#s1)" marker-end="url(#o1)"><path d="M706.7 637.3L735.7 707.7"/></g>
<g stroke="#201030" marker-start="url(#s9)">
<g marker-end="url(#o9)"><path d="M699.3 804L676.7 826.3"/><path d="M669.3 846L680 908.3"/><path d="M682.3 846L683.3 908.3"/><path d="M699.3 804L684 908"/><path d="M675.7 876L699.3 881"/><path d="M667.3 884L637.3 944"/><path d="M757.3 1027L785.7 1022.3"/><path d="M757.3 1027L806 1005.3"/><path d="M749.3 1035L750.3 1108.3"/><path d="M801.3 1022.3L850 1076.7"/><path d="M793.3 1030L786.3 1082.3"/><path d="M822.3 1005.3L852.3 1016.3"/><path d="M822.3 1005.3L850 1075"/><path d="M866.3 1077L918.3 1088.3"/><path d="M866.3 1077L900.3 1124.3"/><path d="M858.3 1085L852.3 1152.3"/><path d="M858.3 1085L889.3 1140.3"/><path d="M750.3 1124.3V1185.3"/><path d="M758.3 1116.3L799.3 1179.3"/></g>
<g marker-end="url(#f9)"><path d="M709.3 853.3L719.3 870.7"/><path d="M749.3 1019L752.3 970.7"/><path d="M762.3 956.3L784 1021.7"/><path d="M762.3 956.3L805.7 1005.3"/></g>
<g marker-end="url(#c9)"><path d="M691 796L625 767.7"/><path d="M699.3 804L709.3 853.3"/><path d="M669.3 846L681.7 863.3"/><path d="M719.3 891.3L749.3 936.7"/></g>
</g>
<g stroke="#000048" marker-start="url(#s6)">
<g marker-end="url(#o6)"><path d="M866 780L784 806.3"/><path d="M859 836L780.7 832"/><path d="M882 780.3L957.3 745.3"/><path d="M882 780.3L911 803.3"/><path d="M875.3 836.3L901.7 793.3"/><path d="M875.3 836.3L948.3 843.3"/><path d="M875.3 836.3L898.3 887.3"/><path d="M965.3 737.3L1017.3 697.3"/><path d="M973.3 745.3L995 796.3"/><path d="M964.3 843.3L995 796.3"/><path d="M964.3 843.3L990.3 900"/><path d="M1092.3 793.3L1055.3 796.3"/><path d="M1108.3 793.3L1150 806"/></g>
<g marker-end="url(#e1)"><path d="M767.3 806.3L697.3 820"/><path d="M764.3 832L697.3 822.7"/></g>
<g marker-end="url(#f6)"><path d="M1041.7 951.3L1006.7 900"/></g>
<g marker-end="url(#c6)"><path d="M825.7 854.3L830.7 838.3"/></g>
<path d="M1007.3 923.3Q1028 932 1025.7 911.7" marker-start="none"/>
</g>
<g stroke="#004444" marker-start="url(#s7)">
<g marker-end="url(#f7)"><path d="M1189.3 806L1214 838.3"/><path d="M1331.7 919L1356 916.7"/><path d="M1356 921.7L1331.7 923"/></g>
<g marker-end="url(#h7)"><path d="M1253.3 838.3L1283.3 830.7"/><path d="M1372.7 920L1417.3 939.3"/><path d="M1440.3 898.3L1476.7 860"/><path d="M1466.3 815L1503.3 773.3"/><path d="M1481.3 738.3L1501.7 682.3"/></g>
<g marker-end="url(#o7)"><path d="M1286.3 811.7L1293.3 866"/><path d="M1323.3 913.3L1368.3 847.3"/><path d="M1364.3 911.3L1396.7 878.3"/><path d="M1364.3 927.3L1363.7 969.7"/><path d="M1331.7 925L1363.7 969.7"/><path d="M1417.3 961.3L1432.3 906"/><path d="M1425.3 969.3L1461.3 1003.3"/><path d="M1417.3 977.3L1411.3 1046"/><path d="M1488.3 871.7L1466.3 831"/><path d="M1517.3 782.7L1490 746"/><path d="M1498.3 671.7L1513 694"/><path d="M1409.3 1116.7L1411.3 1062.7"/></g>
<g marker-end="url(#c7)"><path d="M1301.3 874L1334.3 914.3"/><path d="M1335.7 977.7L1345.7 925"/></g>
</g>
<g stroke="#004400" marker-start="url(#s4)">
<g marker-end="url(#o4)"><path d="M413.3 632.3L390.7 635.7"/><path d="M413.3 632.3L366.7 555"/><path d="M467.3 688.3L413.3 704.3"/><path d="M475.7 732.3V696.7"/><path d="M467.3 740L404.3 754.3"/><path d="M475.7 748.3L435.7 801.7"/><path d="M342.3 772.3L388.3 754.3"/><path d="M396.3 762.3L391.7 818.3"/><path d="M388.3 754.3L380.3 735.3"/><path d="M388.3 753.3L318.3 710"/><path d="M302.3 710L247.3 663.3"/><path d="M302.3 710L256.7 663.3"/><path d="M302.3 710L240 698.3"/><path d="M302.3 710L261.7 736"/><path d="M334.3 780.3L350.3 840"/><path d="M342.3 772.3L357.7 796"/><path d="M326.7 772.3L286.7 816.3"/><path d="M350.3 856L343.3 887.3"/><path d="M350.3 856L319.3 929.3"/><path d="M342.3 851.7L330.3 859.3"/><path d="M383.3 826.7L358.3 848"/><path d="M388 833L358.3 848"/><path d="M391.7 834.3L394.3 892.7"/><path d="M427.3 809.3L397.3 796.7"/><path d="M435.7 817.3L452.3 855.7"/><path d="M239.3 774.3L196.7 719.3"/><path d="M239.3 774.3L193.3 748.3"/><path d="M239.3 774.3L190 785"/><path d="M184.3 828.3L137.3 795.3"/><path d="M184.3 828.3L132.7 837.7"/><path d="M184.3 828.3L151.7 873.3"/><path d="M311.7 937.3L276 946.7"/><path d="M311.7 937.3L249.3 942.3"/><path d="M311.7 937.3L263.3 976"/><path d="M319.3 945.3L274.7 978.3"/><path d="M319.3 945.3L310.7 977.7"/><path d="M319.3 945.3L344.3 1012.7"/></g>
<g marker-end="url(#c4)"><path d="M421.7 640.3L446.7 688.3"/><path d="M256 774.3L307.3 784.3"/><path d="M192.7 820.7L219.3 781.7"/><path d="M539 691L479.3 717.3"/><path d="M421.7 624.3L445 586.7"/></g>
<g marker-end="url(#f4)"><path d="M397.3 703.3L343.3 769.3"/><path d="M286.7 816.3L333.3 843.3"/><path d="M371.7 1128L345 1033"/><path d="M403 1161L349 1045"/></g>
<g marker-end="url(#h4)"><path d="M270.3 816.3L205 807.3"/></g>
<g marker-end="url(#e1)"><path d="M427.3 809.3L399.3 826.3"/></g>
</g>
<g stroke="#40004c" marker-start="url(#s5)">
<g marker-end="url(#o5)"><path d="M299.3 1364L250.7 1380.3"/><path d="M307.3 1372.3L347.3 1442.3"/><path d="M370.3 1390.3L324.3 1417.3"/><path d="M378.3 1398.3L347.3 1442.3"/><path d="M437.3 1323.3L477.3 1358.3"/><path d="M437.3 1323.3L485.3 1377.3"/><path d="M429 1331.3L447.3 1374.3"/><path d="M339.3 1450.3L295.3 1487.3"/><path d="M347.3 1458.3L318.7 1504.3"/><path d="M347.3 1458.3L369.3 1512.3"/><path d="M355.3 1450.3L407.3 1501.3"/></g>
<g marker-end="url(#f5)"><path d="M514.3 1141L531.7 1098.3"/><path d="M514.3 1141L527 1110"/><path d="M487 1172.3L551.3 1108.7"/><path d="M600 1021.7L633 964"/><path d="M627 1090L631 964"/><path d="M628 1029L630.5 975"/></g>
<g marker-end="url(#h5)"><path d="M398.3 1236.7L388.3 1195"/><path d="M429 1315.3L395 1227.3"/><path d="M307.3 1355.7L357.7 1272.3"/><path d="M307.3 1355.7L364.7 1274.3"/><path d="M345.7 1289.3L391 1226.7"/><path d="M355.7 1292.7L392.7 1226.7"/><path d="M378.3 1382.3L415.7 1289"/><path d="M468.3 1150.7L514.3 1141"/></g>
<g marker-end="url(#e1)"><path d="M571.7 1098.3L628 1029"/></g>
</g>
<path id="srl2-link" d="M299.3 1224L335.7 1207.3" stroke="#3000ff" stroke-width="2"/>
<path d="M332.5 1203.5L337 1211" stroke="#40004c"/>
</g>
<g id="sinks" fill="none" stroke-width="1">
<g stroke="#000"><circle cx="317.3" cy="306.7" r="5"/><path d="M317.3 297.3L318.3 319.3"/></g>
<g stroke="#443800"><circle cx="281.3" cy="345" r="5"/><path d="M277.3 335L285 351.7"/><circle cx="333.3" cy="576.7" r="5"/><path d="M326 569.3L340 581.7"/></g>
<g stroke="#3c0000"><circle cx="846.7" cy="536.7" r="5"/><path d="M838.3 533.3L856.7 538.3"/><circle cx="605" cy="846.7" r="5"/><path d="M596.7 851.7L613.3 841.7"/></g>
</g>
<g id="state-labels" class="l">
<text class="l3" x="545" y="208">+ P</text><text class="l3" x="568" y="223">- P</text><text class="l3" x="441.7" y="478">+ P</text><text class="l3" x="461.7" y="446">P</text><text class="l3" x="468.3" y="555">- P</text><text class="l3" x="485" y="568">+ P</text><text class="l3" x="437" y="598">Ub</text>
<text class="l2" x="376.7" y="408">+ Ub</text><text class="l2" x="360" y="443.3">+ Ub</text>
<text class="l1" x="610" y="469.3">+ P</text><text class="l1" x="632" y="478">+ P(Swi6)</text><text class="l1" x="611.7" y="576">- P</text><text class="l1" x="592.7" y="590">+</text><text class="l1" x="743" y="563.3">+ Ub</text><text class="l1" x="636" y="770.7">Ub</text>
<text class="l9" x="642.7" y="861.7">+ Ub(Cdc6)</text><text class="l9" x="683" y="879">+ P</text>
<text class="l6" x="800" y="806.7">+ P(Bub1)</text><text class="l6" x="791" y="847.3">+ P(Mad1)</text>
<text class="l7" x="1290" y="839.3">+ P</text><text class="l7" x="1406" y="934">+ P</text><text class="l7" x="1460" y="858">+ P</text><text class="l7" x="1486.7" y="772.7">+ P</text><text class="l7" x="1505" y="680">+ P</text><text class="l7" x="1391.7" y="1091.7">+ P</text>
<text class="l4" x="413" y="708.3">+ Ub(Cdc6)</text><text class="l4" x="459.3" y="718.3">+ P(Cdc6)</text><text class="l4" x="283.3" y="721.7">2</text><text class="l4" x="279" y="804">+ P(Mcm2-7)</text><text class="l4" x="190" y="792.7">+ P(Dbf4)</text>
<text fill="#000" x="374" y="1181.7">+ P</text>
</g>
</svg>
